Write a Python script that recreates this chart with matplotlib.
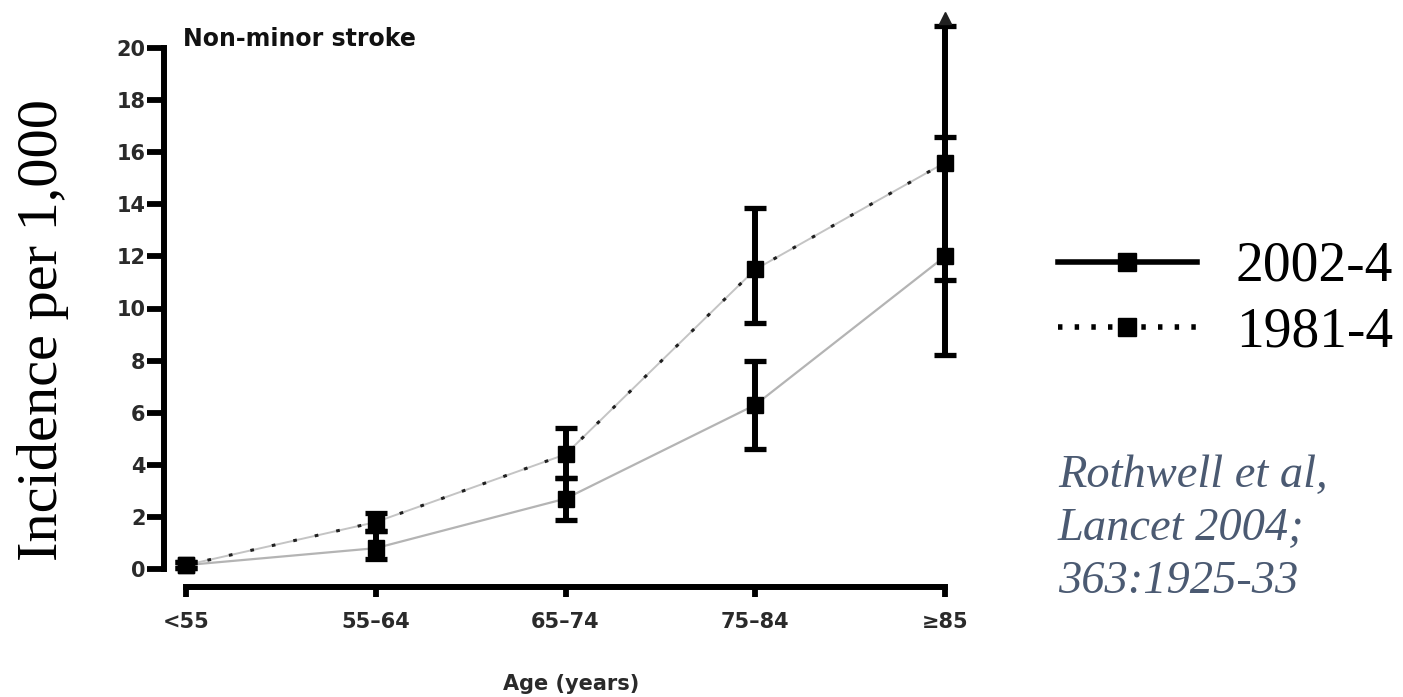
import matplotlib
matplotlib.use("Agg")
import matplotlib.pyplot as plt
from matplotlib.lines import Line2D

# Data
ages = ['<55', '55\u201364', '65\u201374', '75\u201384', '\u226585']
inc_2002 = [0.15, 0.8, 2.7, 6.3, 12.0]
lo_2002 = [0.05, 0.4, 1.9, 4.6, 8.2]
hi_2002 = [0.25, 1.45, 3.5, 8.0, 16.6]
inc_1981 = [0.15, 1.8, 4.4, 11.5, 15.6]
lo_1981 = [0.05, 1.45, 3.5, 9.45, 11.1]
hi_1981 = [0.25, 2.15, 5.4, 13.85, 20.85]
yticks = [0, 2, 4, 6, 8, 10, 12, 14, 16, 18, 20]

W, H = 1403, 697
fig = plt.figure(figsize=(W / 100, H / 100), dpi=100)
ax = fig.add_axes([186 / W, 1 - 569 / H, (945 - 186) / W, (569 - 48) / H])

x = list(range(len(ages)))

# connecting lines
ax.plot(x, inc_2002, color='#b4b4b4', lw=1.6, zorder=2)
ax.plot(x, inc_1981, color='#c4c4c4', lw=1.4, zorder=2)
ax.plot(x, inc_1981, color='#202020', lw=2.2, ls=(0, (1.2, 6)), zorder=2)


def draw_series(vals, lo, hi):
    err = [[v - l for v, l in zip(vals, lo)], [h - v for v, h in zip(vals, hi)]]
    ax.errorbar(x, vals, yerr=err, fmt='s', color='black', ms=11,
                elinewidth=4.3, capsize=8, capthick=3.8, clip_on=False, zorder=4)


draw_series(inc_2002, lo_2002, hi_2002)
draw_series(inc_1981, lo_1981, hi_1981)
# arrow for truncated upper error at >=85
ax.plot([x[-1]], [hi_1981[-1] + 0.3], marker='^', color='#202020', ms=8,
        clip_on=False, zorder=5)

ax.set_xlim(0, 4)
ax.set_ylim(0, 20)
ax.set_xticks(x)
ax.set_xticklabels(ages)
ax.set_yticks(yticks)
ax.set_yticklabels([str(t) for t in yticks])

for s in ['top', 'right']:
    ax.spines[s].set_visible(False)
ax.spines['left'].set_position(('outward', 16))
ax.spines['bottom'].set_position(('outward', 13))
ax.spines['left'].set_linewidth(4.3)
ax.spines['bottom'].set_linewidth(4.3)
ax.spines['left'].set_bounds(0, 20)
ax.tick_params(axis='y', length=12, width=4.2, pad=1, labelsize=15,
               labelcolor='#2a2a2a')
ax.tick_params(axis='x', length=7, width=4.2, pad=11, labelsize=15,
               labelcolor='#2a2a2a')
for lab in ax.get_xticklabels() + ax.get_yticklabels():
    lab.set_fontweight('bold')
    lab.set_family('DejaVu Sans')

ax.set_xlabel('Age (years)', family='DejaVu Sans', weight='bold', size=15,
              color='#2a2a2a', labelpad=30)
ax.xaxis.label.set_x(0.508)
ax.text(-0.004, 1.017, 'Non-minor stroke', transform=ax.transAxes, ha='left',
        va='center', family='DejaVu Sans', weight='bold', size=17, color='#111111')

fig.text(43 / W, 1 - 330 / H, 'Incidence per 1,000', rotation=90, ha='center',
         va='center', family='Liberation Serif', size=42)

handles = [
    Line2D([], [], color='black', lw=4, marker='s', ms=13),
    Line2D([], [], color='black', lw=4, ls=(0, (0.8, 2.2)), marker='s', ms=13),
]
fig.legend(handles, ['2002-4', '1981-4'], loc='upper left',
           bbox_to_anchor=(1058 / W, 1 - 241 / H), frameon=False,
           prop=dict(family='Liberation Serif', size=40), handlelength=2.5,
           handletextpad=0.7, labelspacing=0.24, borderpad=0, borderaxespad=0)

fig.text(1058 / W, 1 - 529 / H, 'Rothwell et al,\nLancet 2004;\n363:1925-33',
         ha='left', va='center', family='Liberation Serif', style='italic',
         size=33.5, color='#4b5a72', linespacing=1.33)

fig.savefig('out.png', dpi=100)
